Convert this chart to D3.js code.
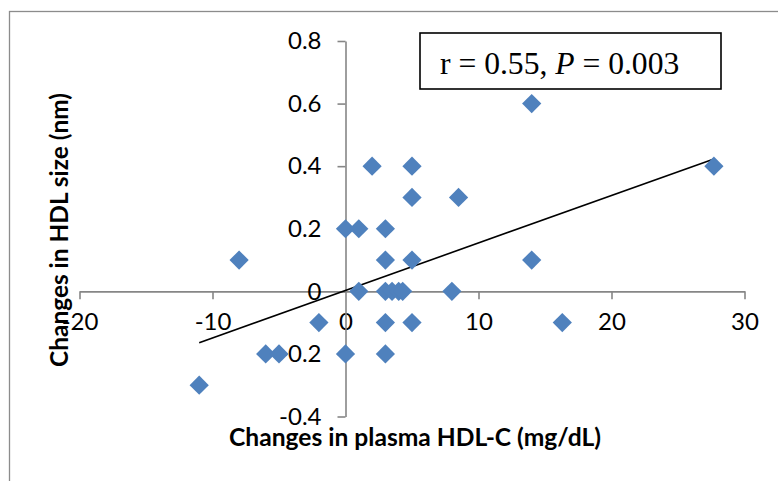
<!DOCTYPE html>
<html>
<head>
<meta charset="utf-8">
<script src="https://cdn.jsdelivr.net/npm/d3@7"></script>
<style>
  html, body { margin: 0; padding: 0; background: #fff; }
  svg { display: block; }
</style>
</head>
<body>
<svg id="chart" width="778" height="481"></svg>
<script>
// ---- data ----
const xValues = [2, 5, 5, 8.5, 0, 1, 3, 3, 5, 1, 3, 3.5, 4, 4.3, 8, -2, 3, 5, 0, 3, -8, -6, -5, -11, 14, 27.7, 14, 16.3];
const yValues = [0.4, 0.4, 0.3, 0.3, 0.2, 0.2, 0.2, 0.1, 0.1, 0, 0, 0, 0, 0, 0, -0.1, -0.1, -0.1, -0.2, -0.2, 0.1, -0.2, -0.2, -0.3, 0.6, 0.4, 0.1, -0.1];
const xTicks = [-20, -10, 0, 10, 20, 30];
const yTicks = [-0.4, -0.2, 0, 0.2, 0.4, 0.6, 0.8];
const trendSlope = 0.01517;
const trendIntercept = 0.0029;
const trendRange = [-11, 27.7];
const xTitle = "Changes in plasma HDL-C (mg/dL)";
const yTitle = "Changes in HDL size (nm)";

const svg = d3.select("#chart");

// chart frame (extends past the image on right/bottom)
svg.append("rect").attr("x", 9.5).attr("y", 11.5).attr("width", 1000).attr("height", 1000)
  .attr("fill", "#fff").attr("stroke", "#8c8c8c").attr("stroke-width", 1.3);

const x = d3.scaleLinear().domain([-20, 30]).range([79.5, 744.5]);
const y = d3.scaleLinear().domain([-0.4, 0.8]).range([416.5, 41]);

const axisColor = "#868686";
const tickFont = "Lato, 'Open Sans', sans-serif";

// x axis (at y = 0)
const gx = svg.append("g").attr("transform", `translate(0,${y(0)})`)
  .call(d3.axisBottom(x).tickValues(xTicks).tickSize(8).tickPadding(14).tickSizeOuter(0));
// y axis (at x = 0)
const gy = svg.append("g").attr("transform", `translate(${x(0)},0)`)
  .call(d3.axisLeft(y).tickValues(yTicks).tickSize(8).tickPadding(16).tickSizeOuter(0));

[gx, gy].forEach(g => {
  g.select(".domain").attr("stroke", axisColor).attr("stroke-width", 1.6);
  g.selectAll(".tick line").attr("stroke", axisColor).attr("stroke-width", 1.6);
  g.selectAll(".tick text").attr("fill", "#000").attr("font-family", tickFont).attr("font-size", 24);
});
gx.selectAll(".tick text").text(d => d3.format("d")(d).replace("−", "-"));
gy.selectAll(".tick text").text(d => (d === 0 ? "0" : d3.format(".1f")(d).replace("−", "-")));
// tick mark at 0 on x axis coincides with the y axis
gx.selectAll(".tick").filter(d => d === 0).select("line").remove();

// trendline
svg.append("line")
  .attr("x1", x(trendRange[0])).attr("y1", y(trendSlope * trendRange[0] + trendIntercept))
  .attr("x2", x(trendRange[1])).attr("y2", y(trendSlope * trendRange[1] + trendIntercept))
  .attr("stroke", "#000").attr("stroke-width", 1.6);

// diamond markers
const pts = xValues.map((v, i) => [v, yValues[i]]);
const sym = d3.symbol().type(d3.symbolSquare).size(185);
svg.append("g").selectAll("path").data(pts).join("path")
  .attr("d", sym)
  .attr("transform", d => `translate(${x(d[0])},${y(d[1])}) rotate(45)`)
  .attr("fill", "#4F81BD");

// annotation box
svg.append("rect").attr("x", 420).attr("y", 33).attr("width", 301).attr("height", 56)
  .attr("fill", "#fff").attr("stroke", "#000").attr("stroke-width", 1.6);
const ann = svg.append("text").attr("x", 440).attr("y", 73.5)
  .attr("font-family", "'Liberation Serif', 'Times New Roman', serif").attr("font-size", 31.6).attr("fill", "#000");
ann.append("tspan").text("r = 0.55, ");
ann.append("tspan").attr("font-style", "italic").text("P");
ann.append("tspan").text(" = 0.003");

// axis titles
const xt = svg.append("text").attr("x", 415).attr("y", 446).attr("text-anchor", "middle")
  .attr("font-family", tickFont).attr("font-weight", "bold").attr("font-size", 20).attr("fill", "#000").text(xTitle);
const xl = xt.node().getComputedTextLength();
xt.attr("font-size", 20 * 372 / xl);

const yt = svg.append("text").attr("transform", "translate(68,230) rotate(-90)").attr("text-anchor", "middle")
  .attr("font-family", tickFont).attr("font-weight", "bold").attr("font-size", 20).attr("fill", "#000").text(yTitle);
const yl = yt.node().getComputedTextLength();
yt.attr("font-size", 20 * 274 / yl);
</script>
</body>
</html>
